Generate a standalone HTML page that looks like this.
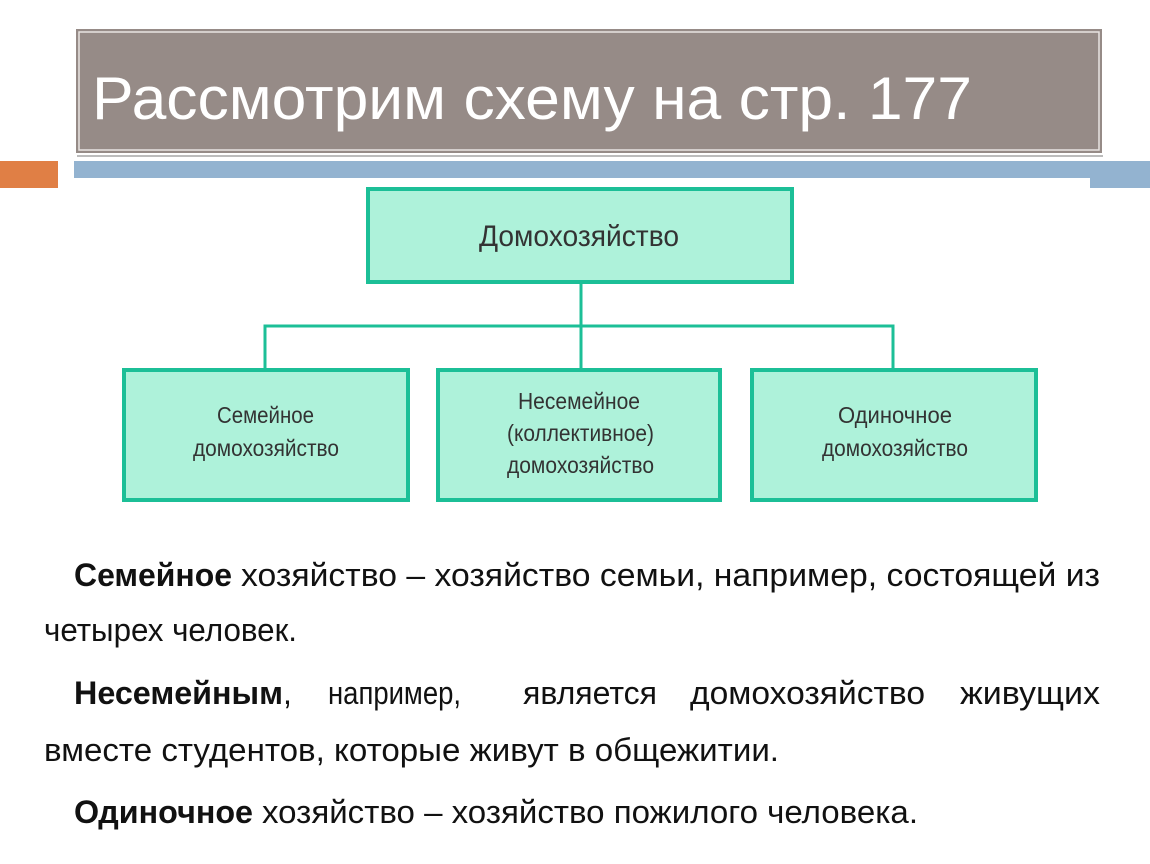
<!DOCTYPE html>
<html><head><meta charset="utf-8"><style>
html,body{margin:0;padding:0;background:#fff;width:1150px;height:864px;overflow:hidden}
svg{display:block}
</style></head><body>
<svg width="1150" height="864" viewBox="0 0 1150 864" xmlns="http://www.w3.org/2000/svg" font-family="Liberation Sans, sans-serif">
<!-- title -->
<rect x="77" y="31" width="1026" height="126" fill="#bcbcbc"/>
<rect x="75" y="28" width="1028" height="126" fill="#968b87" stroke="#fff" stroke-width="2"/>
<rect x="79" y="32" width="1020" height="118" fill="none" stroke="#e8e4e2" stroke-width="1.5"/>
<text x="92" y="119" fill="#fff" font-size="60" textLength="880" lengthAdjust="spacingAndGlyphs">Рассмотрим схему на стр. 177</text>
<!-- bars -->
<rect x="0" y="161" width="58" height="27" fill="#e07f45"/>
<rect x="74" y="161" width="1076" height="17" fill="#93b3d0"/>
<rect x="1090" y="161" width="60" height="27" fill="#93b3d0"/>
<!-- diagram -->
<g stroke="#1cbf97" stroke-width="4" fill="#aef2da">
<line x1="581" y1="283" x2="581" y2="368" stroke-width="3"/>
<polyline points="265,368 265,326 893,326 893,368" fill="none" stroke-width="3"/>
<rect x="368" y="189" width="424" height="93"/>
<rect x="124" y="370" width="284" height="130"/>
<rect x="438" y="370" width="282" height="130"/>
<rect x="752" y="370" width="284" height="130"/>
</g>
<g fill="#333" font-size="23">
<text x="479" y="246" font-size="30" textLength="200" lengthAdjust="spacingAndGlyphs">Домохозяйство</text>
<text x="217" y="423" textLength="97" lengthAdjust="spacingAndGlyphs">Семейное</text>
<text x="193" y="456" textLength="146" lengthAdjust="spacingAndGlyphs">домохозяйство</text>
<text x="518" y="409" textLength="122" lengthAdjust="spacingAndGlyphs">Несемейное</text>
<text x="507" y="441" textLength="147" lengthAdjust="spacingAndGlyphs">(коллективное)</text>
<text x="507" y="473" textLength="147" lengthAdjust="spacingAndGlyphs">домохозяйство</text>
<text x="838" y="423" textLength="114" lengthAdjust="spacingAndGlyphs">Одиночное</text>
<text x="822" y="456" textLength="146" lengthAdjust="spacingAndGlyphs">домохозяйство</text>
</g>
<!-- body text -->
<g fill="#111" font-size="32">
<text x="74" y="586" font-weight="bold" textLength="158" lengthAdjust="spacingAndGlyphs">Семейное</text>
<text x="241" y="586" textLength="859" lengthAdjust="spacingAndGlyphs">хозяйство – хозяйство семьи, например, состоящей из</text>
<text x="44" y="641" textLength="253" lengthAdjust="spacingAndGlyphs">четырех человек.</text>
<text x="74" y="704" font-weight="bold" textLength="209" lengthAdjust="spacingAndGlyphs">Несемейным</text>
<text x="283" y="704">,</text>
<text x="328" y="704" textLength="133" lengthAdjust="spacingAndGlyphs">например,</text>
<text x="523" y="704" textLength="134" lengthAdjust="spacingAndGlyphs">является</text>
<text x="690" y="704" textLength="235" lengthAdjust="spacingAndGlyphs">домохозяйство</text>
<text x="960" y="704" textLength="140" lengthAdjust="spacingAndGlyphs">живущих</text>
<text x="44" y="761" textLength="735" lengthAdjust="spacingAndGlyphs">вместе студентов, которые живут в общежитии.</text>
<text x="74" y="823" font-weight="bold" textLength="179" lengthAdjust="spacingAndGlyphs">Одиночное</text>
<text x="262" y="823" textLength="656" lengthAdjust="spacingAndGlyphs">хозяйство – хозяйство пожилого человека.</text>
</g>
</svg>
</body></html>
